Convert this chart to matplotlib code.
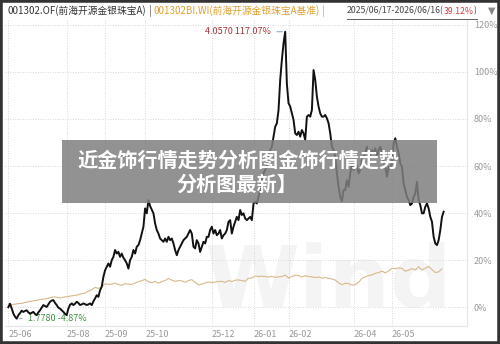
import matplotlib
matplotlib.use('Agg')
import matplotlib.pyplot as plt
import matplotlib.patches as patches
from matplotlib.ticker import FuncFormatter
import numpy as np

plt.rcParams['font.family'] = ['Noto Sans CJK SC', 'DejaVu Sans']

# fund return (%) per trading day
fund = [
    0, 1.5, -0.5, -2.7, -4.0, -4.87, -3.4, -2.5, -1.5, -2.0,
    -1.6, -1.3, -2.2, -2.7, -2.4, -2.0, -2.9, -3.4, -2.2, -1.3,
    -0.2, 0.9, 0.5, 0.1, 1.2, 2.3, 2.8, 3.0, 1.8, 0.9,
    -0.2, -0.6, -1.3, -2.0, -2.8, -3.4, -0.6, 1.0, 1.6, 0.9,
    1.5, 2.3, 1.8, 0.9, 1.2, 1.6, 1.3, 0.9, 1.2, 1.6,
    0.9, 2.5, 3.7, 5.1, 4.4, 7.2, 8.7, 12.9, 15.7, 17.2,
    18.6, 17.2, 20.0, 21.4, 24.3, 22.8, 23.5, 21.4, 22.8, 21.0,
    20.0, 18.6, 16.4, 20.0, 21.4, 24.3, 22.8, 25.7, 26.4, 28.5,
    31.3, 34.2, 42.0, 39.9, 45.5, 43.0, 41.5, 39.9, 35.6, 32.8,
    31.3, 29.2, 28.5, 27.8, 29.2, 27.8, 29.9, 28.5, 29.2, 27.1,
    24.3, 22.1, 24.3, 25.7, 27.1, 28.5, 29.2, 29.9, 31.3, 32.8,
    31.3, 25.7, 25.0, 28.5, 27.1, 23.5, 25.7, 27.8, 27.1, 29.9,
    29.9, 32.8, 34.2, 31.3, 32.8, 30.6, 31.3, 32.8, 29.2, 30.6,
    31.3, 32.8, 36.3, 37.0, 31.3, 34.2, 36.3, 38.4, 37.0, 41.3,
    39.2, 39.9, 37.7, 37.0, 37.7, 38.4, 37.0, 44.1, 44.8, 44.1,
    46.9, 49.8, 53.3, 56.9, 58.3, 59.7, 64.0, 66.8, 68.2, 72.5,
    76.7, 78.2, 83.8, 96.6, 105.1, 112.2, 117.07, 95.0, 86.7, 85.3,
    82.4, 79.6, 73.9, 73.2, 74.6, 72.5, 75.3, 73.9, 71.1, 81.0,
    81.7, 81.0, 83.8, 100.8, 96.6, 89.5, 85.3, 82.4, 81.0, 81.0,
    81.7, 80.3, 78.2, 73.9, 68.2, 66.8, 64.0, 56.9, 51.2, 46.9,
    45.0, 49.8, 49.8, 54.0, 51.2, 56.9, 61.1, 58.3, 62.6, 59.7,
    56.9, 58.3, 62.6, 64.0, 65.4, 68.2, 62.6, 64.0, 66.8, 65.4,
    67.5, 64.0, 66.8, 68.2, 65.4, 61.8, 59.7, 55.5, 59.7, 59.0,
    61.1, 69.6, 71.8, 68.2, 65.4, 61.1, 59.7, 52.6, 49.8, 46.9,
    45.5, 43.4, 44.1, 46.9, 48.4, 53.3, 45.5, 43.4, 39.9, 39.9,
    42.7, 44.1, 42.0, 38.4, 36.3, 29.9, 27.1, 26.4, 28.5, 32.8,
    38.4, 40.6,
]

# benchmark return (%) every second trading day
bench = [
    0.5, 1.0, 1.3, 1.5, 1.6, 2.0, 2.3, 2.6, 2.8, 3.1,
    3.4, 3.5, 3.8, 4.2, 4.4, 4.0, 4.0, 4.4, 4.6, 4.8,
    5.0, 5.3, 5.7, 6.0, 6.8, 7.5, 8.4, 8.0, 8.6, 10.0,
    9.7, 9.8, 10.2, 9.6, 9.3, 10.0, 9.8, 9.7, 10.3, 10.8,
    11.3, 11.8, 10.8, 10.4, 11.0, 10.2, 10.9, 11.3, 12.2, 11.5,
    11.0, 11.3, 11.2, 10.6, 11.3, 11.7, 10.5, 9.5, 9.8, 10.3,
    10.7, 10.5, 10.7, 10.9, 11.0, 10.5, 11.3, 10.9, 11.5, 11.6,
    11.3, 11.0, 12.3, 12.4, 13.3, 13.0, 13.2, 13.0, 12.8, 13.1,
    12.7, 12.9, 13.0, 13.7, 12.4, 13.0, 13.6, 13.5, 12.8, 13.4,
    13.0, 12.9, 12.6, 12.8, 12.4, 12.6, 12.2, 12.0, 11.5, 10.4,
    9.5, 10.2, 10.0, 9.4, 9.6, 10.6, 12.2, 12.9, 13.5, 13.7,
    14.4, 14.7, 15.3, 14.6, 15.4, 16.5, 16.4, 16.7, 16.5, 15.3,
    15.7, 16.4, 15.8, 17.2, 15.8, 16.6, 17.3, 16.0, 14.7, 15.0,
    16.3,
]

month_pos = [0, 35, 58, 82, 122, 147, 168, 207, 230]
month_labels = ['25-06', '25-08', '25-09', '25-10', '25-12', '26-01', '26-02', '26-04', '26-05']
y_ticks = [0, 20, 40, 60, 80, 100, 120]

fig = plt.figure(figsize=(5, 3.44), dpi=100)
fig.patch.set_facecolor('white')
ax = fig.add_axes([0.01, 0.0523, 0.924, 0.889])

x_f = np.arange(len(fund))
x_b = np.arange(len(bench)) * 2

ax.plot(x_b, bench, color='#d8b98a', lw=0.8, zorder=3)
ax.plot(x_f, fund, color='#111111', lw=1.4, zorder=4)

ax.set_xlim(-2, 275)
ax.set_ylim(-8, 122)
ax.set_xticks(month_pos)
ax.set_xticklabels(month_labels, ha='left')
ax.set_yticks(y_ticks)
ax.yaxis.set_major_formatter(FuncFormatter(lambda v, p: '%d%%' % v))
ax.yaxis.tick_right()
ax.tick_params(axis='both', length=0, labelsize=6.5, colors='#999999')
ax.tick_params(axis='y', pad=5)
ax.tick_params(axis='x', pad=3)
ax.grid(True, linestyle=(0, (1, 2)), color='#cccccc', lw=0.6)
for s in ['top', 'left']:
    ax.spines[s].set_visible(False)
ax.spines['right'].set_color('#e6e6e6')
ax.spines['bottom'].set_color('#e6e6e6')

# max / min annotations
imax = int(np.argmax(fund))
imin = int(np.argmin(fund))
ax.annotate('4.0570 117.07%', xy=(x_f[imax], fund[imax]), xytext=(-10, 0),
            textcoords='offset points', ha='right', va='center', fontsize=6.5,
            color='#a8343a', arrowprops=dict(arrowstyle='-', color='#6a8fb0', lw=0.6))
ax.annotate('1.7780 -4.87%', xy=(x_f[imin], fund[imin]), xytext=(8, 0),
            textcoords='offset points', ha='left', va='center', fontsize=6.5,
            color='#3f8f3f', arrowprops=dict(arrowstyle='-', color='#6a8fb0', lw=0.6))

# watermark
ax.text(0.70, 0.14, 'Wind', transform=ax.transAxes, fontsize=62, fontweight='bold',
        color='#f4f4f4', ha='center', va='center', zorder=1, family='DejaVu Sans')

# header line
renderer = fig.canvas.get_renderer()
hy = 1 - 11 / 344

def chain(parts, x0, size):
    x = x0
    for txt, col in parts:
        t = fig.text(x, hy, txt, fontsize=size, color=col, va='center', ha='left')
        bb = t.get_window_extent(renderer)
        x = x + bb.width / fig.bbox.width
    return x

chain([('001302.OF(前海开源金银珠宝A)', '#333333'), (' | ', '#555555'),
       ('001302BI.WI(前海开源金银珠宝A基准)', '#e0a030'), (' |', '#e0a030')], 8 / 500, 7)
xr0 = 347 / 500
xr1 = chain([('2025/06/17-2026/06/16(', '#444444'), ('39.12%', '#d04040'), (')', '#444444')],
            xr0, 6.3)
fig.add_artist(plt.Line2D([xr0, xr1], [hy - 0.022, hy - 0.022], transform=fig.transFigure,
                          color='#444444', lw=0.6))
fig.text(492 / 500, hy, '▼', fontsize=7, color='#888888', va='center', ha='center',
         family='DejaVu Sans')

# overlay banner
fig.add_artist(patches.Rectangle((62 / 500, 1 - 203 / 344), 375 / 500, 63 / 344,
                                 transform=fig.transFigure, facecolor='#7f7f7f',
                                 alpha=0.85, edgecolor='none', zorder=10))
fig.text(238 / 500, 1 - 160 / 344, '近金饰行情走势分析图金饰行情走势', fontsize=14.5,
         fontweight='bold', color='white', ha='center', va='center', zorder=11)
fig.text(237 / 500, 1 - 184 / 344, '分析图最新】', fontsize=14.5,
         fontweight='bold', color='white', ha='center', va='center', zorder=11)

# frame
fig.add_artist(patches.Rectangle((0, 0), 1, 1, transform=fig.transFigure, fill=False,
                                 edgecolor='#333333', lw=4, zorder=20))

plt.savefig('out.png', dpi=100)
